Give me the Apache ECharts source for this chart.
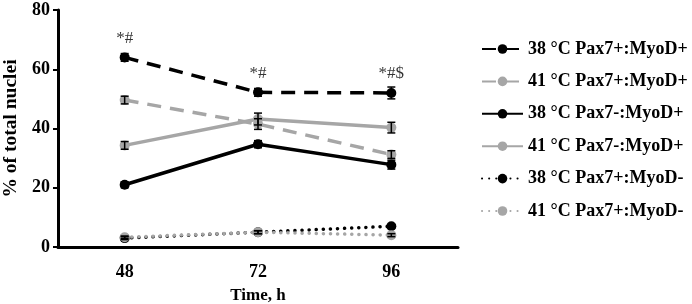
<!DOCTYPE html>
<html>
<head>
<meta charset="utf-8">
<script src="https://cdn.jsdelivr.net/npm/echarts@6/dist/echarts.min.js"></script>
<style>
  html, body { margin: 0; padding: 0; background: #fff; }
  #chart { width: 692px; height: 304px; }
</style>
</head>
<body>
<div id="chart"></div>
<script>
const times = ['48', '72', '96'];

const names = [
    '38 °C Pax7+:MyoD+',
    '41 °C Pax7+:MyoD+',
    '38 °C Pax7-:MyoD+',
    '41 °C Pax7-:MyoD+',
    '38 °C Pax7+:MyoD-',
    '41 °C Pax7+:MyoD-'
];

const hot38DoublePos = [64, 52.2, 52];
const hot41DoublePos = [49.6, 41.5, 31.2];
const hot38MyoOnly = [21, 34.7, 27.8];
const hot41MyoOnly = [34.3, 43.2, 40.3];
const hot38PaxOnly = [3, 5, 7];
const hot41PaxOnly = [3.3, 5, 4];

const err38DoublePos = [1.3, 1.3, 2];
const err41DoublePos = [1.3, 1.8, 1.3];
const err38MyoOnly = [1, 1.2, 1.5];
const err41MyoOnly = [1.3, 2, 1.8];
const err38PaxOnly = [0.5, 0.5, 0.6];
const err41PaxOnly = [0.4, 0.5, 0.5];

const marks = ['*#', '*#', '*#$'];
const markHeights = [70.5, 58.5, 58.5];

const black = '#000000';
const gray = '#a6a6a6';
const font = '"Liberation Serif", "Times New Roman", serif';

const chart = echarts.init(document.getElementById('chart'));

function lineSeries(name, data, color, type) {
    return {
        name: name,
        type: 'line',
        data: data,
        symbol: 'circle',
        symbolSize: 10,
        itemStyle: { color: color },
        lineStyle: {
            color: color,
            width: type === 'dotted' ? 3.5 : 3.5,
            type: type === 'dotted' ? [0.1, 7] : type === 'dashed' ? [14, 9] : 'solid',
            cap: type === 'dotted' ? 'round' : 'butt'
        },
        z: 3
    };
}

function errorSeries(values, errs, color) {
    return {
        type: 'custom',
        data: values.map((v, i) => [i, v - errs[i], v + errs[i]]),
        renderItem: function (params, api) {
            const lo = api.coord([api.value(0), api.value(1)]);
            const hi = api.coord([api.value(0), api.value(2)]);
            const w = 4;
            const st = { stroke: color, lineWidth: 1.5 };
            return {
                type: 'group',
                children: [
                    { type: 'line', shape: { x1: lo[0], y1: lo[1], x2: hi[0], y2: hi[1] }, style: st },
                    { type: 'line', shape: { x1: lo[0] - w, y1: lo[1], x2: lo[0] + w, y2: lo[1] }, style: st },
                    { type: 'line', shape: { x1: hi[0] - w, y1: hi[1], x2: hi[0] + w, y2: hi[1] }, style: st }
                ]
            };
        },
        z: 4,
        silent: true
    };
}

chart.setOption({
    animation: false,
    grid: { left: 58, right: 234, top: 10, bottom: 57, outerBoundsMode: 'none' },
    legend: {
        orient: 'vertical',
        left: 481,
        top: 40,
        padding: 0,
        itemWidth: 41,
        itemHeight: 12,
        itemGap: 14.4,
        data: names,
        textStyle: { fontFamily: font, fontWeight: 'bold', fontSize: 18, color: '#000' }
    },
    xAxis: {
        type: 'category',
        data: times,
        boundaryGap: true,
        name: 'Time, h',
        nameLocation: 'middle',
        nameGap: 40,
        nameTextStyle: { fontFamily: font, fontWeight: 'bold', fontSize: 17, color: '#000' },
        axisLine: { lineStyle: { color: '#000', width: 3 } },
        axisTick: { show: false },
        axisLabel: { fontFamily: font, fontWeight: 'bold', fontSize: 18, color: '#000', margin: 16 }
    },
    yAxis: {
        type: 'value',
        min: 0,
        max: 80,
        interval: 20,
        name: '% of total nuclei',
        nameLocation: 'middle',
        nameGap: 34,
        nameTextStyle: { fontFamily: font, fontWeight: 'bold', fontSize: 19.5, color: '#000' },
        axisLine: { show: true, lineStyle: { color: '#000', width: 3 } },
        axisTick: { show: true, length: 5, lineStyle: { color: '#000', width: 2 } },
        splitLine: { show: false },
        axisLabel: { fontFamily: font, fontWeight: 'bold', fontSize: 18, color: '#000', margin: 8 }
    },
    series: [
        lineSeries(names[0], hot38DoublePos, black, 'dashed'),
        lineSeries(names[1], hot41DoublePos, gray, 'dashed'),
        lineSeries(names[2], hot38MyoOnly, black, 'solid'),
        lineSeries(names[3], hot41MyoOnly, gray, 'solid'),
        lineSeries(names[4], hot38PaxOnly, black, 'dotted'),
        lineSeries(names[5], hot41PaxOnly, gray, 'dotted'),
        errorSeries(hot38DoublePos, err38DoublePos, black),
        errorSeries(hot41DoublePos, err41DoublePos, black),
        errorSeries(hot38MyoOnly, err38MyoOnly, black),
        errorSeries(hot41MyoOnly, err41MyoOnly, black),
        errorSeries(hot38PaxOnly, err38PaxOnly, black),
        errorSeries(hot41PaxOnly, err41PaxOnly, black),
        {
            type: 'scatter',
            data: markHeights.map((h, i) => [i, h]),
            symbolSize: 0,
            silent: true,
            label: {
                show: true,
                position: 'inside',
                formatter: p => marks[p.dataIndex],
                fontFamily: font,
                fontSize: 17,
                color: '#000'
            }
        }
    ]
});
</script>
</body>
</html>
